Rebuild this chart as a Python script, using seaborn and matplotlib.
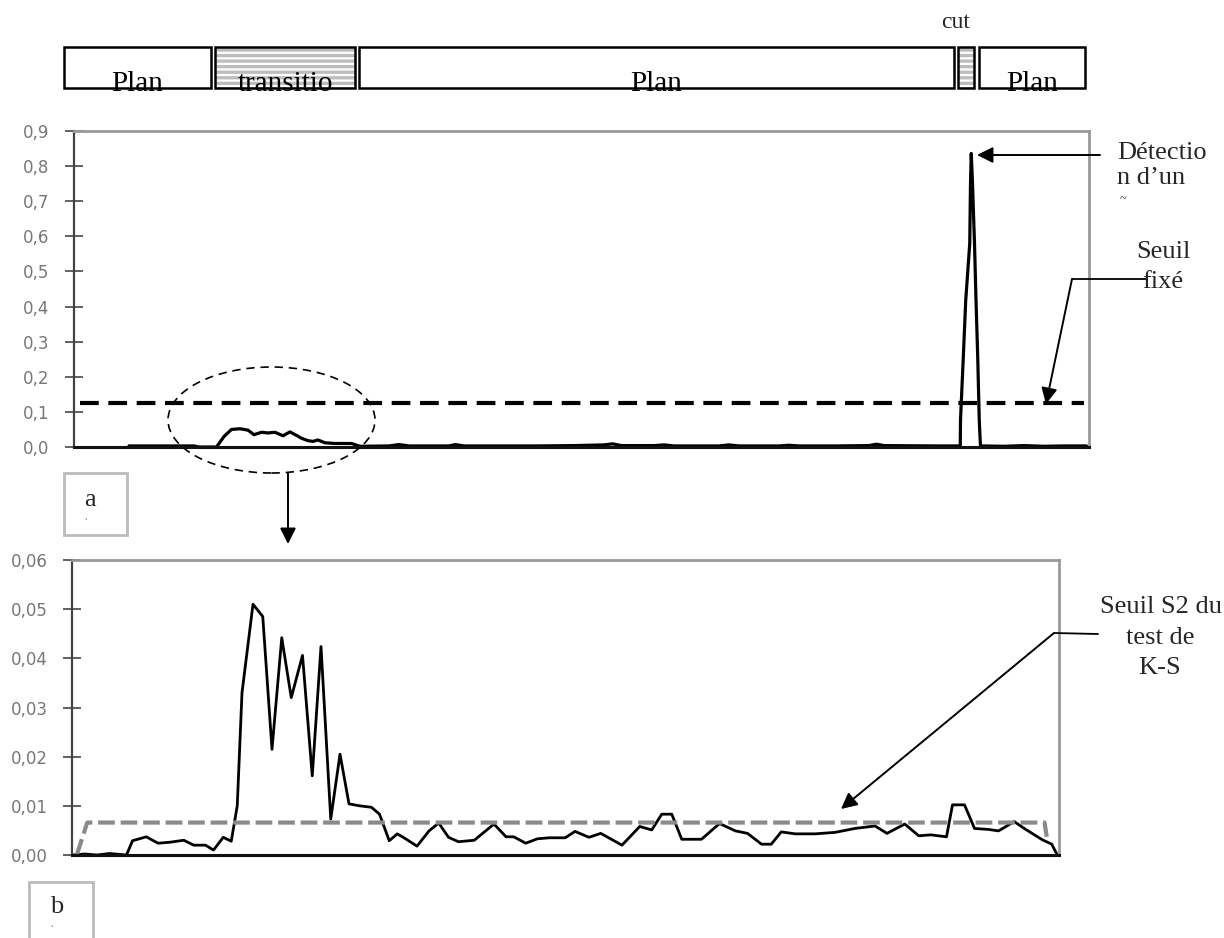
import seaborn as sns
import matplotlib.pyplot as plt
from matplotlib.lines import Line2D
from matplotlib.patches import Ellipse, Rectangle
from matplotlib.ticker import FuncFormatter

# --- timeline of shots (frame units, same axis as chart a) ---
seg_labels = ["Plan", "transitio", "Plan", "", "Plan"]
seg_start = [-4, 56.4, 114, 353.6, 362]
seg_end = [54.8, 112.4, 352, 360, 404.4]
seg_hatched = [False, True, False, True, False]

# --- chart a : distance between frames ---
frames_a = [22, 48, 50, 57, 60, 63, 66.4, 69.6, 72, 75, 77.6, 80.4, 83.6, 86.4, 89, 91, 93.6,
            95.6, 97.6, 100.4, 104.4, 111, 114.4, 126, 130, 134, 150, 152.5, 156, 185, 200,
            212, 215.5, 219, 232, 236, 240, 258, 262, 266, 282, 286, 290, 305, 318, 321, 324,
            345, 354.5, 354.6, 355.7, 356.7, 358.3, 358.6, 358.9, 359.4, 360.2, 360.8, 361.5,
            362.1, 362.6, 363.5, 372, 380, 388, 396, 405]
values_a = [0.003, 0.003, 0.0, 0.0, 0.03, 0.05, 0.052, 0.048, 0.035, 0.042, 0.04, 0.042, 0.032,
            0.043, 0.033, 0.025, 0.018, 0.016, 0.02, 0.012, 0.01, 0.01, 0.002, 0.003, 0.007,
            0.003, 0.003, 0.007, 0.003, 0.003, 0.004, 0.006, 0.009, 0.004, 0.004, 0.006, 0.003,
            0.003, 0.006, 0.003, 0.003, 0.005, 0.003, 0.003, 0.004, 0.008, 0.004, 0.003, 0.003,
            0.077, 0.253, 0.419, 0.58, 0.751, 0.836, 0.751, 0.58, 0.419, 0.253, 0.077, 0.0,
            0.003, 0.002, 0.004, 0.002, 0.003, 0.003]
seuil_a_frames = [2.4, 404]
seuil_a_values = [0.125, 0.125]

# --- chart b : K-S test ---
frames_b = [0.5, 5, 10, 15, 21.8, 24.2, 29.7, 34.4, 39.2, 44.7, 48.7, 53.4, 56.6, 60.5, 63.7,
            66.1, 68, 72.4, 76.3, 80, 83.9, 87.7, 92.2, 96.1, 99.6, 103.5, 107.2, 110.8, 115.1,
            119.8, 123, 126.9, 130.1, 132.5, 138, 142.8, 146.7, 150.6, 154.6, 160.9, 168.8,
            173.6, 176.7, 181.5, 186.2, 190.9, 197.3, 201.2, 206.8, 211.5, 220, 227.1, 231.9,
            235.9, 239.9, 243.9, 251.8, 259, 265.4, 270.2, 275.8, 279.7, 283.7, 289.3, 297.2,
            305.2, 313.2, 321.2, 326, 333.1, 338.7, 343.5, 349.8, 352.2, 357, 361, 366.6,
            370.6, 376.9, 380.9, 388.1, 391.9, 394.1]
values_b = [0.0, 0.0002, 0.0, 0.0003, 0.0, 0.0029, 0.0037, 0.0024, 0.0026, 0.003, 0.002, 0.002,
            0.001, 0.0036, 0.0028, 0.010, 0.033, 0.051, 0.0485, 0.0215, 0.0442, 0.032, 0.0406,
            0.0161, 0.0424, 0.0073, 0.0205, 0.0104, 0.010, 0.0097, 0.0083, 0.0029, 0.0043,
            0.0036, 0.0018, 0.0049, 0.0065, 0.0036, 0.0027, 0.003, 0.0063, 0.0037, 0.0037,
            0.0024, 0.0033, 0.0035, 0.0035, 0.0048, 0.0036, 0.0044, 0.002, 0.0058, 0.0051,
            0.0083, 0.0083, 0.0032, 0.0032, 0.0064, 0.0049, 0.0044, 0.0022, 0.0022, 0.0047,
            0.0043, 0.0043, 0.0046, 0.0054, 0.0059, 0.0044, 0.0063, 0.0039, 0.0041, 0.0037,
            0.0102, 0.0102, 0.0054, 0.0052, 0.0049, 0.0068, 0.0054, 0.0031, 0.0022, 0.0]
seuil_b_frames = [1.9, 6.1, 389, 389.9]
seuil_b_values = [0.0, 0.0066, 0.0066, 0.0037]

sns.set_style("white")
plt.rcParams['font.family'] = ['DejaVu Sans']
plt.rcParams['hatch.linewidth'] = 1.6
SERIF = ['Liberation Serif', 'DejaVu Serif']

W, H = 1224, 938
fig = plt.figure(figsize=(W / 100, H / 100), dpi=100)


def fpx(x, y):
    return (x / W, 1 - y / H)


comma = lambda d: FuncFormatter(lambda v, p: f"{v:.{d}f}".replace('.', ','))


def style_axes(ax):
    ax.set_xticks([])
    ax.tick_params(axis='y', direction='inout', length=13, width=1.3, color='#555',
                   labelsize=12, labelcolor='#777', pad=11, left=True)
    ax.spines['left'].set_color('#444')
    ax.spines['left'].set_linewidth(1.6)
    ax.spines['bottom'].set_color('#111')
    ax.spines['bottom'].set_linewidth(2.2)
    for s in ['top', 'right']:
        ax.spines[s].set_color('#999')
        ax.spines[s].set_linewidth(2)
    ax.set_xlabel("")
    ax.set_ylabel("")


# timeline
ax_t = fig.add_axes([74 / W, 1 - 88 / H, 1015 / W, 41 / H])
ax_t.set_xlim(0, 406)
ax_t.set_ylim(0, 1)
ax_t.axis('off')
for lab, s, e, h in zip(seg_labels, seg_start, seg_end, seg_hatched):
    if h:
        ax_t.barh(0.5, e - s, left=s, height=1, color='#bdbdbd', edgecolor='white',
                  hatch='---', linewidth=0, clip_on=False)
    ax_t.barh(0.5, e - s, left=s, height=1, facecolor='none', edgecolor='black',
              linewidth=1.8, clip_on=False)
    if lab:
        t = ax_t.text((s + e) / 2, -0.08, lab, ha='center', va='baseline', fontsize=21,
                      family=SERIF, color='black')
        t.set_clip_path(Rectangle((s, 0), e - s, 1, transform=ax_t.transData))
fig.text(*fpx(956, 23), "cut", ha='center', va='center', fontsize=17, family=SERIF)

# chart a
ax_a = fig.add_axes([74 / W, 1 - 447 / H, 1015 / W, 316 / H])
sns.lineplot(x=frames_a, y=values_a, ax=ax_a, color='black', linewidth=2.3, estimator=None,
             sort=False)
ax_a.plot(seuil_a_frames, seuil_a_values, color='black', linewidth=3, dashes=(4.5, 2.3))
ax_a.set_xlim(0, 406)
ax_a.set_ylim(0, 0.9)
ax_a.set_yticks([i / 10 for i in range(10)])
ax_a.yaxis.set_major_formatter(comma(1))
style_axes(ax_a)

# chart b
ax_b = fig.add_axes([72 / W, 1 - 855 / H, 987 / W, 295 / H])
sns.lineplot(x=frames_b, y=values_b, ax=ax_b, color='black', linewidth=2, estimator=None,
             sort=False)
ax_b.plot(seuil_b_frames, seuil_b_values, color='#8a8a8a', linewidth=3, dashes=(4, 1.4))
ax_b.set_xlim(0, 394.8)
ax_b.set_ylim(0, 0.06)
ax_b.set_yticks([i / 100 for i in range(7)])
ax_b.yaxis.set_major_formatter(comma(2))
style_axes(ax_b)

# annotations
arrow = dict(arrowstyle='-|>', color='black', lw=1.4, mutation_scale=24, shrinkA=0, shrinkB=0)
fig_ann = dict(xycoords='figure fraction', textcoords='figure fraction')

fig.text(*fpx(1117, 153), "Détectio", ha='left', va='center', fontsize=19, family=SERIF)
fig.text(*fpx(1117, 178), "n d’un", ha='left', va='center', fontsize=19, family=SERIF)
fig.text(*fpx(1120, 199), "~", ha='left', va='center', fontsize=9, family=SERIF)
ax_a.annotate("", xy=fpx(977, 155), xytext=fpx(1100, 155), arrowprops=arrow, **fig_ann)

fig.text(*fpx(1163, 252), "Seuil", ha='center', va='center', fontsize=19, family=SERIF)
fig.text(*fpx(1163, 282), "fixé", ha='center', va='center', fontsize=19, family=SERIF)
fig.add_artist(Line2D([1147 / W, 1072 / W], [1 - 279 / H, 1 - 279 / H], color='black',
                      lw=1.3, transform=fig.transFigure))
ax_a.annotate("", xy=fpx(1046, 404), xytext=fpx(1072, 279), arrowprops=arrow, **fig_ann)

fig.add_artist(Ellipse(fpx(271.5, 420), 207 / W, 106 / H, transform=fig.transFigure,
                       fill=False, color='black', lw=1.2, linestyle=(0, (5, 3.5))))
ax_a.annotate("", xy=fpx(288, 544), xytext=fpx(288, 473), arrowprops=arrow, **fig_ann)

fig.add_artist(Rectangle(fpx(64, 535), 63 / W, 62 / H, transform=fig.transFigure,
                         fill=False, edgecolor='#bbbbbb', lw=2))
fig.text(*fpx(90, 500), "a", ha='center', va='center', fontsize=19, family=SERIF)
fig.text(*fpx(86, 523), "`", ha='center', va='center', fontsize=6, family=SERIF)
fig.add_artist(Rectangle(fpx(29, 945), 64 / W, 63 / H, transform=fig.transFigure,
                         fill=False, edgecolor='#bbbbbb', lw=2))
fig.text(*fpx(57, 907), "b", ha='center', va='center', fontsize=19, family=SERIF)
fig.text(*fpx(52, 930), "`", ha='center', va='center', fontsize=6, family=SERIF)

fig.text(*fpx(1161, 607), "Seuil S2 du", ha='center', va='center', fontsize=19, family=SERIF)
fig.text(*fpx(1160, 638), "test de", ha='center', va='center', fontsize=19, family=SERIF)
fig.text(*fpx(1160, 668), "K-S", ha='center', va='center', fontsize=19, family=SERIF)
fig.add_artist(Line2D([1098 / W, 1054 / W], [1 - 634 / H, 1 - 633 / H], color='black',
                      lw=1.3, transform=fig.transFigure))
ax_b.annotate("", xy=fpx(841, 809), xytext=fpx(1054, 633), arrowprops=arrow, **fig_ann)

fig.savefig("out.png", dpi=100)
